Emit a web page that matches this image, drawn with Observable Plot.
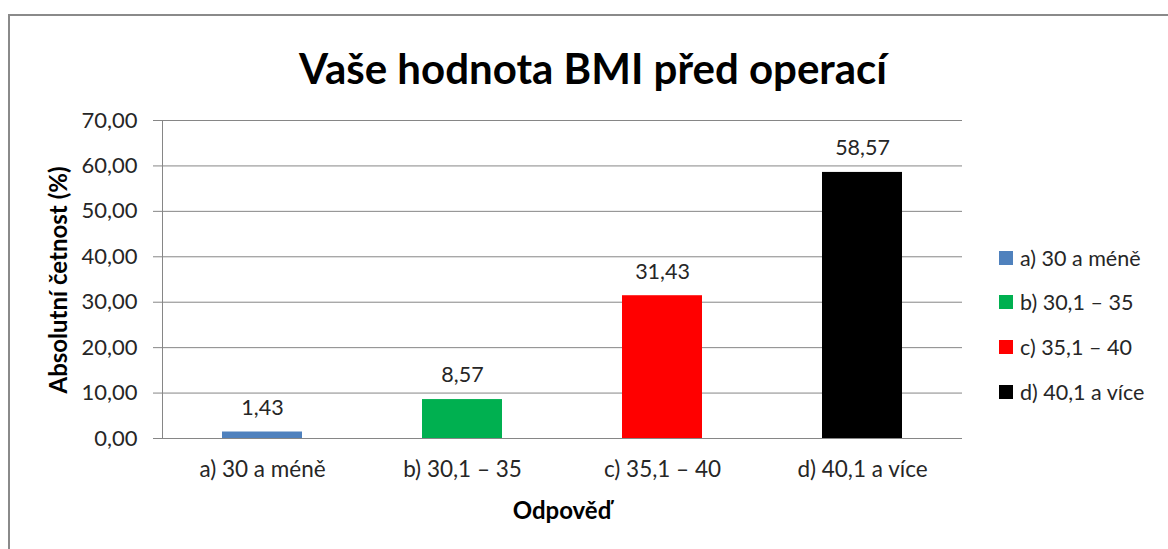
<!DOCTYPE html>
<html>
<head>
<meta charset="utf-8">
<script src="https://cdn.jsdelivr.net/npm/d3@7"></script>
<script src="https://cdn.jsdelivr.net/npm/@observablehq/plot@0.6"></script>
<style>
  html, body { margin: 0; padding: 0; background: #fff; }
  #wrap { position: relative; width: 1168px; height: 549px; overflow: hidden; font-family: Lato, "Open Sans", sans-serif; color: #262626; }
  #frame { position: absolute; left: 8px; top: 14px; width: 1300px; height: 700px; border: 2px solid #8a8a8a; box-sizing: border-box; }
  #chart { position: absolute; left: 0; top: 0; }
  .title { position: absolute; left: 593px; top: 68px; transform: translate(-50%, -50%); font-size: 42px; font-weight: bold; color: #000; white-space: nowrap; }
  .ylabel { position: absolute; left: 57px; top: 280px; transform: translate(-50%, -50%) rotate(-90deg); font-size: 24px; font-weight: bold; color: #000; white-space: nowrap; }
  .xlabel { position: absolute; left: 562px; top: 509px; transform: translate(-50%, -50%); font-size: 24px; font-weight: bold; color: #000; white-space: nowrap; }
  .legend { position: absolute; left: 999px; top: 0; }
  .legend .row { position: absolute; left: 0; display: flex; align-items: center; white-space: nowrap; font-size: 21.5px; transform: translateY(-50%); }
  .legend .sw { width: 14px; height: 14px; margin-right: 7px; }
</style>
</head>
<body>
<div id="wrap">
  <div id="frame"></div>
  <div id="chart"></div>
  <div class="title" id="title"></div>
  <div class="ylabel" id="ylabel"></div>
  <div class="xlabel" id="xlabel"></div>
  <div class="legend" id="legend"></div>
</div>
<script>
const titleText = "Vaše hodnota BMI před operací";
const yAxisLabel = "Absolutní četnost (%)";
const xAxisLabel = "Odpověď";
const categories = ["a) 30 a méně", "b) 30,1 – 35", "c) 35,1 – 40", "d) 40,1 a více"];
const values = [1.43, 8.57, 31.43, 58.57];
const colors = ["#4F81BD", "#00B050", "#FF0000", "#000000"];
const yTicks = [0, 10, 20, 30, 40, 50, 60, 70];
const legendRowsY = [258, 302, 347, 392];

const locale = d3.formatLocale({decimal: ",", thousands: " ", grouping: [3], currency: ["", " Kč"]});
const fmt = locale.format(".2f");

const data = categories.map((c, i) => ({cat: c, value: values[i]}));

const chart = Plot.plot({
  width: 1168,
  height: 549,
  marginTop: 120,
  marginBottom: 111,
  marginLeft: 162,
  marginRight: 206,
  style: {fontFamily: "Lato, 'Open Sans', sans-serif", fontSize: "22px", color: "#262626", background: "transparent", overflow: "visible"},
  x: {domain: categories, paddingInner: 0.6, paddingOuter: 0.3, label: null},
  y: {domain: [0, 70], label: null},
  color: {domain: categories, range: colors},
  marks: [
    Plot.gridY(yTicks, {stroke: "#868686", strokeOpacity: 1}),
    Plot.barY(data, {x: "cat", y: "value", fill: "cat"}),
    Plot.frame({anchor: "left", stroke: "#868686", strokeOpacity: 1}),
    Plot.axisY(yTicks, {tickSize: 9, tickPadding: 16, tickFormat: fmt, stroke: "#868686", strokeOpacity: 1, fill: "#262626", label: null, fontSize: 22}),
    Plot.axisX({tickSize: 0, tickPadding: 23, fill: "#262626", label: null, fontSize: 22.5}),
    Plot.text(data, {x: "cat", y: "value", text: d => fmt(d.value), dy: -24, fill: "#262626", fontSize: 21.5})
  ]
});
document.getElementById("chart").appendChild(chart);

document.getElementById("title").textContent = titleText;
document.getElementById("ylabel").textContent = yAxisLabel;
document.getElementById("xlabel").textContent = xAxisLabel;

const legend = document.getElementById("legend");
categories.forEach((c, i) => {
  const row = document.createElement("div");
  row.className = "row";
  row.style.top = legendRowsY[i] + "px";
  const sw = document.createElement("div");
  sw.className = "sw";
  sw.style.background = colors[i];
  const t = document.createElement("span");
  t.textContent = c;
  row.appendChild(sw);
  row.appendChild(t);
  legend.appendChild(row);
});
</script>
</body>
</html>
